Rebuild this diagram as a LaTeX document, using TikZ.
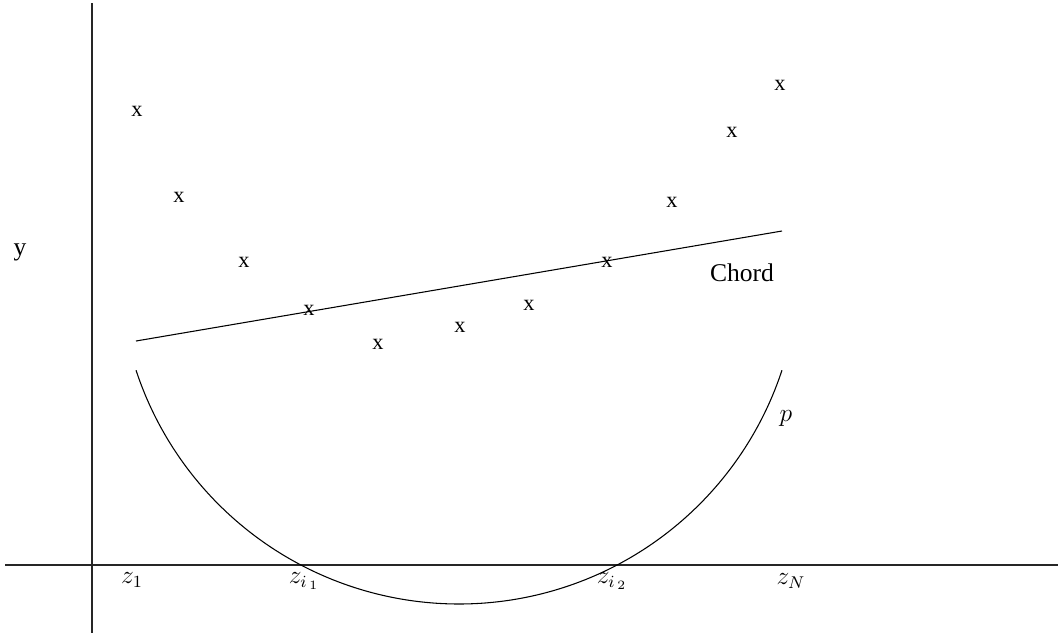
\documentclass[tikz,border=0pt]{standalone}
\usepackage{fontspec}
\setmainfont{Liberation Serif}
\usepackage{tikz}
\usetikzlibrary{
    positioning,
    calc
}
\tikzstyle{axis} = [
    line width=0.55pt,
    draw=black!85
]
\tikzstyle{curve} = [
    line width=0.5pt,
    draw=black
]
\tikzstyle{xmark} = [
    inner sep=0pt,
    font=\fontsize{10.5}{12}\selectfont
]
\tikzstyle{axlabel} = [
    inner sep=0pt,
    font=\fontsize{12}{14}\selectfont
]

\begin{document}
\begin{tikzpicture}[x=0.47pt, y=-0.47pt]
    \useasboundingbox (0,0) rectangle (1060,635);

    % Axes
    \coordinate (ytop) at (92,3);
    \coordinate (ybot) at (92,633);
    \coordinate (xleft) at (5,565);
    \coordinate (xright) at (1058,565);
    \draw[axis] (ytop) -- (ybot);
    \draw[axis] (xleft) -- (xright);
    \node[axlabel] (ylab) at (20,252) {y};

    % Data points
    \foreach \px/\py [count=\i] in {137/111, 179/197, 244/262, 309/310, 378/344,
        460/327, 529/305, 607/262, 672/202, 732/132, 780/85} {
        \node[xmark] (pt\i) at (\px,\py) {x};
    }

    % Chord
    \coordinate (cleft) at (136,341);
    \coordinate (cright) at (782,231);
    \draw[curve] (cleft) -- (cright);
    \node[axlabel] (chord) at (742,273) {Chord};

    % Polynomial p
    \draw[curve] plot[domain=18.2:161.8, samples=90, smooth]
        ({459+340*cos(\x)}, {264+340*sin(\x)});
    \node[axlabel] (plab) at (786,418) {$p$};

    % Nodes on the axis
    \node[axlabel] (z1) at (132,580) {$z_1$};
    \node[axlabel] (zi1) at (304,581) {$z_{i_{\,1}}$};
    \node[axlabel] (zi2) at (612,581) {$z_{i_{\,2}}$};
    \node[axlabel] (zN) at (791,581) {$z_N$};
\end{tikzpicture}
\end{document}
